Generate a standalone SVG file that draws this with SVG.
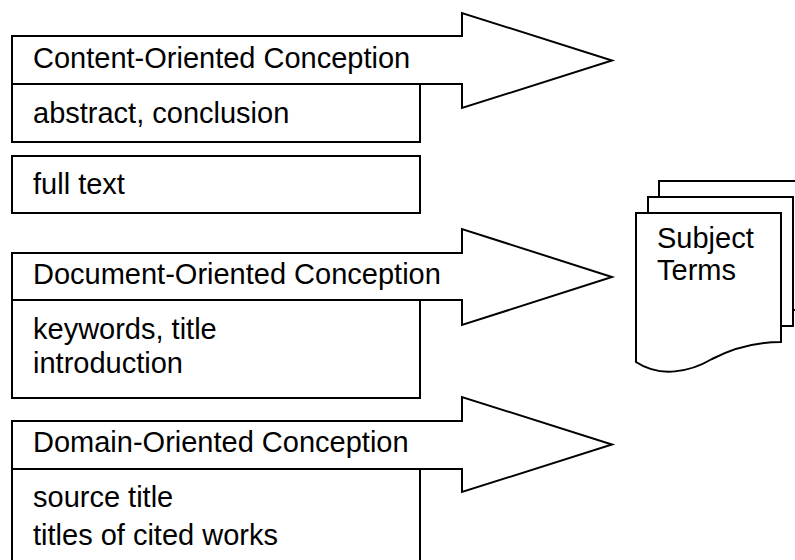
<svg xmlns="http://www.w3.org/2000/svg" width="795" height="560" viewBox="0 0 795 560">
<style>
  .shape { fill: #ffffff; stroke: #000000; stroke-width: 2; stroke-linejoin: miter; }
  .label { font-family: "Liberation Sans", Arial, sans-serif; font-size: 29px; fill: #000000; }
</style>
<rect x="0" y="0" width="795" height="560" fill="#ffffff"/>

<g id="connectors">
  <g id="arrow-content">
    <polygon class="shape" points="12,36 462,36 462,13 612,60.5 462,108 462,84 12,84"/>
    <text class="label" x="33" y="68">Content-Oriented Conception</text>
  </g>
  <g id="arrow-document">
    <polygon class="shape" points="12,253 462,253 462,229 612,277 462,325 462,300 12,300"/>
    <text class="label" x="33" y="284">Document-Oriented Conception</text>
  </g>
  <g id="arrow-domain">
    <polygon class="shape" points="12,421 462,421 462,397 612,444.5 462,492 462,469 12,469"/>
    <text class="label" x="33" y="452">Domain-Oriented Conception</text>
  </g>
</g>

<g id="node-abstract">
  <rect class="shape" x="12" y="84" width="408" height="58"/>
  <text class="label" x="33" y="123">abstract, conclusion</text>
</g>

<g id="node-fulltext">
  <rect class="shape" x="12" y="156" width="408" height="57"/>
  <text class="label" x="33" y="194">full text</text>
</g>

<g id="node-keywords">
  <rect class="shape" x="12" y="300" width="408" height="98"/>
  <text class="label" x="33" y="339">keywords, title</text>
  <text class="label" x="33" y="373">introduction</text>
</g>

<g id="node-source">
  <rect class="shape" x="12" y="469" width="408" height="120"/>
  <text class="label" x="33" y="507">source title</text>
  <text class="label" x="33" y="545">titles of cited works</text>
</g>

<g id="node-subject-terms">
  <rect class="shape" x="659" y="181" width="148" height="129"/>
  <rect class="shape" x="648" y="197" width="145" height="129"/>
  <path class="shape" d="M636,213 L781,213 L781,342 C760,342 735,347 712,359 C690,372 660,378 636,362 Z"/>
  <text class="label" x="657" y="248">Subject</text>
  <text class="label" x="657" y="280">Terms</text>
</g>
</svg>
